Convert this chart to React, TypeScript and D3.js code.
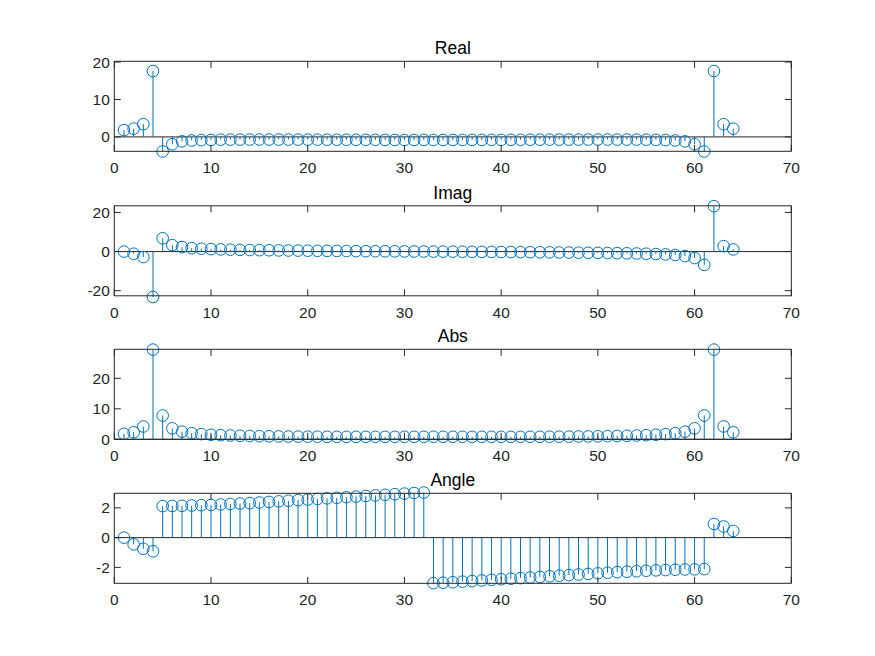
import React, { useEffect, useRef } from "react";
import * as d3 from "d3";

// 64-point FFT
const realPart = [
  1.8, 2.2, 3.4, 17.6, -3.9, -1.95, -1.2, -0.95, -0.85, -0.8, -0.75, -0.73, -0.72, -0.72, -0.71, -0.71,
  -0.71, -0.72, -0.72, -0.73, -0.74, -0.75, -0.76, -0.77, -0.78, -0.79, -0.8, -0.81, -0.81, -0.82, -0.82, -0.82,
  -0.83, -0.82, -0.82, -0.82, -0.81, -0.81, -0.8, -0.79, -0.78, -0.77, -0.76, -0.75, -0.74, -0.73, -0.72, -0.72,
  -0.71, -0.71, -0.71, -0.72, -0.72, -0.73, -0.75, -0.8, -0.85, -0.95, -1.2, -1.95, -3.9, 17.6, 3.4, 2.2,
];

const imagPart = [
  0, -1.1, -2.8, -23.2, 6.8, 3.3, 2.3, 1.75, 1.45, 1.25, 1.1, 0.98, 0.88, 0.8, 0.73, 0.66,
  0.6, 0.55, 0.5, 0.45, 0.4, 0.36, 0.32, 0.28, 0.24, 0.2, 0.17, 0.14, 0.11, 0.08, 0.05, 0.02,
  0, -0.02, -0.05, -0.08, -0.11, -0.14, -0.17, -0.2, -0.24, -0.28, -0.32, -0.36, -0.4, -0.45, -0.5, -0.55,
  -0.6, -0.66, -0.73, -0.8, -0.88, -0.98, -1.1, -1.25, -1.45, -1.75, -2.3, -3.3, -6.8, 23.2, 2.8, 1.1,
];

const absVal = [
  1.8, 2.3, 4.2, 29.4, 7.8, 3.6, 2.5, 2.0, 1.7, 1.5, 1.35, 1.25, 1.15, 1.08, 1.03, 0.98,
  0.94, 0.91, 0.88, 0.86, 0.84, 0.83, 0.82, 0.81, 0.81, 0.81, 0.81, 0.81, 0.81, 0.82, 0.82, 0.82,
  0.83, 0.82, 0.82, 0.82, 0.81, 0.81, 0.81, 0.81, 0.81, 0.81, 0.82, 0.83, 0.84, 0.86, 0.88, 0.91,
  0.94, 0.98, 1.03, 1.08, 1.15, 1.25, 1.35, 1.5, 1.7, 2.0, 2.5, 3.6, 7.8, 29.4, 4.2, 2.3,
];

const anglePart = [
  0, -0.45, -0.75, -0.92, 2.12, 2.13, 2.14, 2.16, 2.18, 2.2, 2.23, 2.26, 2.29, 2.32, 2.36, 2.4,
  2.44, 2.48, 2.52, 2.56, 2.6, 2.64, 2.68, 2.72, 2.76, 2.8, 2.84, 2.88, 2.92, 2.96, 3.0, 3.03,
  -3.06, -3.03, -3.0, -2.96, -2.92, -2.88, -2.84, -2.8, -2.76, -2.72, -2.68, -2.64, -2.6, -2.56, -2.52, -2.48,
  -2.44, -2.4, -2.36, -2.32, -2.29, -2.26, -2.23, -2.2, -2.18, -2.16, -2.14, -2.13, -2.12, 0.92, 0.75, 0.45,
];

const titles = ["Real", "Imag", "Abs", "Angle"];
const xTicks = [0, 10, 20, 30, 40, 50, 60, 70];
const realTicks = [0, 10, 20];
const imagTicks = [-20, 0, 20];
const absTicks = [0, 10, 20];
const angleTicks = [-2, 0, 2];

const panels = [
  { title: titles[0], values: realPart, yDomain: [-3.85, 20.2], yTicks: realTicks },
  { title: titles[1], values: imagPart, yDomain: [-22.6, 23.4], yTicks: imagTicks },
  { title: titles[2], values: absVal, yDomain: [0, 29.5], yTicks: absTicks },
  { title: titles[3], values: anglePart, yDomain: [-3.07, 2.98], yTicks: angleTicks },
];

const W = 875;
const H = 656;
const left = 114.3;
const right = 791.3;
const tops = [61.3, 205.8, 349.3, 493.3];
const panelH = 90;
const axisColor = "#262626";
const stemColor = "#0072BD";
const font = "'Liberation Sans', Arial, Helvetica, sans-serif";
const tickLen = 6.5;

export default function App() {
  const ref = useRef<SVGSVGElement | null>(null);

  useEffect(() => {
    const svg = d3.select(ref.current);
    svg.selectAll("*").remove();

    const x = d3.scaleLinear().domain([0, 70]).range([left, right]);

    panels.forEach((p, pi) => {
      const top = tops[pi];
      const bottom = top + panelH;
      const y = d3.scaleLinear().domain(p.yDomain).range([bottom, top]);
      const g = svg.append("g");
      const data = p.values.map((v, i) => ({ i: i + 1, v }));

      // title
      g.append("text")
        .attr("x", (left + right) / 2)
        .attr("y", top - 7)
        .attr("text-anchor", "middle")
        .attr("font-family", font)
        .attr("font-size", 17.5)
        .attr("font-weight", "normal")
        .attr("fill", "#000")
        .text(p.title);

      // stem baseline
      g.append("line")
        .attr("x1", left)
        .attr("x2", right)
        .attr("y1", y(0))
        .attr("y2", y(0))
        .attr("stroke", axisColor)
        .attr("stroke-width", 1);

      // stems
      g.selectAll(".stem")
        .data(data)
        .join("line")
        .attr("class", "stem")
        .attr("x1", (d) => x(d.i))
        .attr("x2", (d) => x(d.i))
        .attr("y1", y(0))
        .attr("y2", (d) => y(d.v))
        .attr("stroke", stemColor)
        .attr("stroke-width", 1);

      g.selectAll(".mark")
        .data(data)
        .join("circle")
        .attr("class", "mark")
        .attr("cx", (d) => x(d.i))
        .attr("cy", (d) => y(d.v))
        .attr("r", 5.8)
        .attr("fill", "none")
        .attr("stroke", stemColor)
        .attr("stroke-width", 1);

      // box
      g.append("rect")
        .attr("x", left)
        .attr("y", top)
        .attr("width", right - left)
        .attr("height", panelH)
        .attr("fill", "none")
        .attr("stroke", axisColor)
        .attr("stroke-width", 1);

      // x ticks, inside, top and bottom
      xTicks.forEach((t) => {
        g.append("line")
          .attr("x1", x(t)).attr("x2", x(t))
          .attr("y1", bottom).attr("y2", bottom - tickLen)
          .attr("stroke", axisColor);
        g.append("line")
          .attr("x1", x(t)).attr("x2", x(t))
          .attr("y1", top).attr("y2", top + tickLen)
          .attr("stroke", axisColor);
        g.append("text")
          .attr("x", x(t))
          .attr("y", bottom + 22)
          .attr("text-anchor", "middle")
          .attr("font-family", font)
          .attr("font-size", 15.5)
          .attr("fill", axisColor)
          .text(t);
      });

      p.yTicks.forEach((t) => {
        g.append("line")
          .attr("x1", left).attr("x2", left + tickLen)
          .attr("y1", y(t)).attr("y2", y(t))
          .attr("stroke", axisColor);
        g.append("line")
          .attr("x1", right).attr("x2", right - tickLen)
          .attr("y1", y(t)).attr("y2", y(t))
          .attr("stroke", axisColor);
        g.append("text")
          .attr("x", left - 4.5)
          .attr("y", y(t))
          .attr("dy", "0.36em")
          .attr("text-anchor", "end")
          .attr("font-family", font)
          .attr("font-size", 15.5)
          .attr("fill", axisColor)
          .text(t);
      });
    });
  }, []);

  return (
    <svg
      ref={ref}
      width={W}
      height={H}
      style={{ position: "absolute", left: 0, top: 0, background: "#fff" }}
    />
  );
}
